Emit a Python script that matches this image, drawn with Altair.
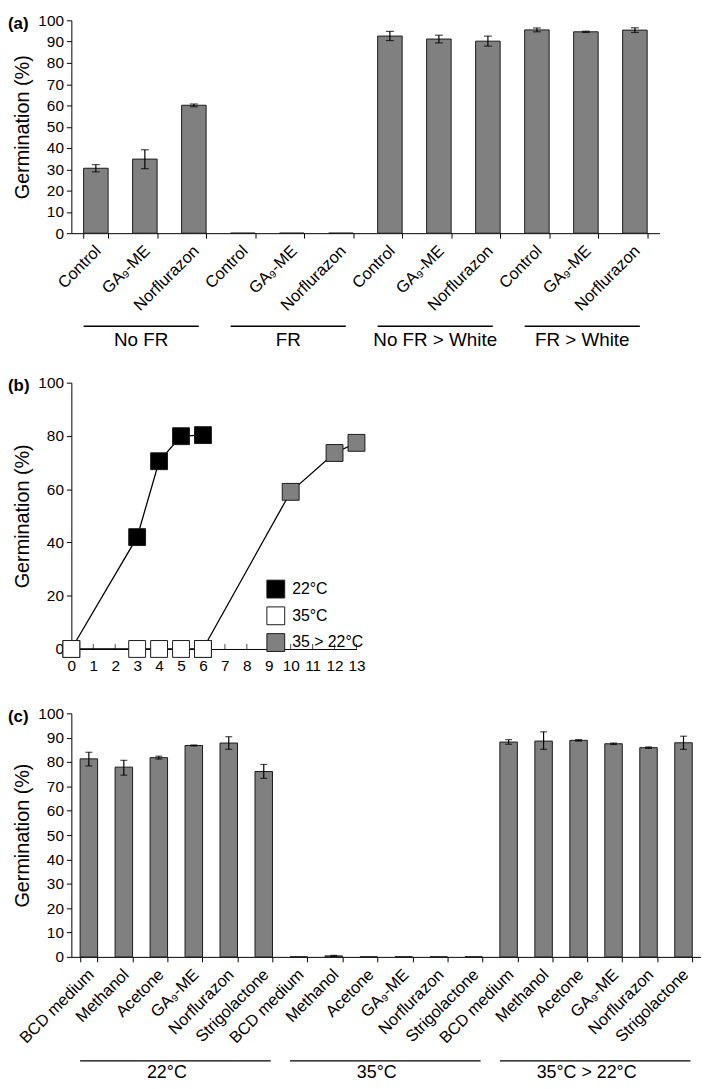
import altair as alt
import pandas as pd

FONT = "Liberation Sans"
BAR = "#808080"
EDGE = "#1a1a1a"

# ---------------- data (a) ----------------
a_groups = ["No FR", "FR", "No FR > White", "FR > White"]
a_treatments = ["Control", "GA₉-ME", "Norflurazon"]
a_mean = [30.5, 34.8, 60.1, 0, 0, 0, 92.6, 91.2, 90.2, 95.5, 94.6, 95.4]
a_low = [28.8, 30.3, 59.4, None, None, None, 90.5, 89.4, 87.9, 94.6, 94.3, 94.3]
a_high = [32.2, 39.2, 60.7, None, None, None, 94.8, 93.0, 92.6, 96.4, 94.9, 96.5]

# ---------------- data (b) ----------------
b_series = ["22°C", "35°C", "35 > 22°C"]
b_colors = ["#000000", "#ffffff", "#808080"]
b_22_day = [0, 3, 4, 5, 6]
b_22_val = [0, 42.0, 70.5, 79.9, 80.3]
b_35_day = [0, 3, 4, 5, 6]
b_35_val = [0, 0, 0, 0, 0]
b_3522_day = [6, 10, 12, 13]
b_3522_val = [0, 59.0, 73.6, 77.4]
b_ticks = list(range(0, 14))

# ---------------- data (c) ----------------
c_groups = ["22°C", "35°C", "35°C > 22°C"]
c_treatments = ["BCD medium", "Methanol", "Acetone", "GA₉-ME", "Norflurazon", "Strigolactone"]
c_mean = [81.3, 77.9, 81.8, 86.8, 87.8, 76.1,
          0, 0.4, 0, 0, 0, 0,
          88.2, 88.6, 88.9, 87.5, 85.9, 87.9]
c_low = [78.4, 74.6, 81.2, 86.6, 85.2, 73.3,
         None, 0.2, None, None, None, None,
         87.3, 85.2, 88.6, 87.2, 85.6, 85.2]
c_high = [84.0, 80.7, 82.4, 87.0, 90.4, 79.0,
          None, 0.6, None, None, None, None,
          89.2, 92.4, 89.2, 87.8, 86.2, 90.6]

panel_labels = ["(a)", "(b)", "(c)"]
y_ticks = list(range(0, 101, 10))
LABEL_X = -64


def y_enc(field, title_pad):
    return alt.Y(field, scale=alt.Scale(domain=[0, 100], nice=False),
                 axis=alt.Axis(values=y_ticks, title="Germination (%)", titleFontSize=20,
                               titleFontWeight="normal", titlePadding=title_pad,
                               labelFontSize=15.5, tickSize=5, labelPadding=3, grid=False,
                               labelOverlap=False))


def bar_panel(groups, treatments, mean, low, high, width, height, label,
              line_y, text_y, end_bp, mid_idx, mid_bp, group_font, cap, title_pad):
    ids = [g + "|" + t for g in groups for t in treatments]
    df = pd.DataFrame({"id": ids, "mean": mean, "low": low, "high": high})
    gdf = pd.DataFrame({
        "group": groups,
        "first": [g + "|" + treatments[0] for g in groups],
        "last": [g + "|" + treatments[-1] for g in groups],
        "mid": [g + "|" + treatments[mid_idx] for g in groups],
    })
    xscale = alt.Scale(domain=ids, paddingInner=0.5, paddingOuter=0.25)
    xaxis = alt.Axis(title=None, labelAngle=-45, labelAlign="right", labelBaseline="middle",
                     labelFontSize=16.5, labelPadding=10, labelOffset=2,
                     tickBand="extent", tickSize=5, labelOverlap=False,
                     labelExpr="split(datum.label, '|')[1]")
    x = alt.X("id:N", scale=xscale, axis=xaxis, sort=ids)
    base = alt.Chart(df)
    bars = base.mark_bar(color=BAR, stroke=EDGE, strokeWidth=1).encode(
        x=x, y=y_enc("mean:Q", title_pad))
    err = base.mark_rule(color="black", strokeWidth=1.2).encode(
        x=x, y=y_enc("low:Q", title_pad), y2="high:Q")
    cap_lo = base.mark_tick(color="black", size=cap, thickness=1.2, orient="horizontal").encode(
        x=x, y=y_enc("low:Q", title_pad))
    cap_hi = base.mark_tick(color="black", size=cap, thickness=1.2, orient="horizontal").encode(
        x=x, y=y_enc("high:Q", title_pad))
    g = alt.Chart(gdf)
    glines = g.mark_rule(color="black", strokeWidth=1.3).encode(
        x=alt.X("first:N", bandPosition=0), x2=alt.X2("last:N", bandPosition=end_bp),
        y=alt.value(height + line_y))
    gtext = g.mark_text(fontSize=group_font, baseline="middle", align="center", color="black").encode(
        x=alt.X("mid:N", bandPosition=mid_bp), y=alt.value(height + text_y), text="group:N")
    plab = alt.Chart(pd.DataFrame({"t": [label]})).mark_text(
        fontSize=17, fontWeight="bold", align="left", baseline="middle", color="black").encode(
        x=alt.value(LABEL_X), y=alt.value(4), text="t:N")
    return alt.layer(bars, err, cap_lo, cap_hi, glines, gtext, plab).properties(
        width=width, height=height)


chart_a = bar_panel(a_groups, a_treatments, a_mean, a_low, a_high, 594, 215, panel_labels[0],
                    line_y=94, text_y=108, end_bp=0.7, mid_idx=1, mid_bp=0.35,
                    group_font=19, cap=8, title_pad=5)

# ---------------- panel (b) ----------------
rows = []
for d, v in zip(b_22_day, b_22_val):
    rows.append({"day": d, "val": v, "series": b_series[0], "k": 0})
for d, v in zip(b_3522_day, b_3522_val):
    rows.append({"day": d, "val": v, "series": b_series[2], "k": 1})
for d, v in zip(b_35_day, b_35_val):
    rows.append({"day": d, "val": v, "series": b_series[1], "k": 2})
bdf = pd.DataFrame(rows)

b_xscale = alt.Scale(domain=[0, 13], nice=False)
b_xaxis = alt.Axis(values=b_ticks, title=None, ticks=False, grid=False,
                   labelFontSize=15.5, labelPadding=10, labelFlush=False,
                   labelOverlap=False)
bx = alt.X("day:Q", scale=b_xscale, axis=b_xaxis)
by = y_enc("val:Q", 5)
bline = alt.Chart(bdf).mark_line(color="black", strokeWidth=1.3).encode(
    x=bx, y=by, detail="series:N")
bpts = alt.Chart(bdf).mark_square(size=290, stroke=EDGE, strokeWidth=1, opacity=1).encode(
    x=bx, y=by,
    fill=alt.Fill("series:N", scale=alt.Scale(domain=b_series, range=b_colors),
                  legend=alt.Legend(orient="none", legendX=197, legendY=199, title=None,
                                    symbolType="square", symbolSize=324,
                                    symbolStrokeColor=EDGE, symbolStrokeWidth=1,
                                    labelFontSize=16, labelOffset=7, rowPadding=4,
                                    padding=0)),
    order=alt.Order("k:Q"))
btick = alt.Chart(pd.DataFrame({"day": b_ticks})).mark_tick(
    color="black", size=5, thickness=1, orient="vertical", yOffset=-2.5).encode(
    x=bx, y=alt.datum(0))
blab = alt.Chart(pd.DataFrame({"t": [panel_labels[1]]})).mark_text(
    fontSize=17, fontWeight="bold", align="left", baseline="middle", color="black").encode(
    x=alt.value(LABEL_X), y=alt.value(3), text="t:N")
chart_b = alt.layer(bline, btick, bpts, blab).properties(width=288, height=269)

chart_c = bar_panel(c_groups, c_treatments, c_mean, c_low, c_high, 636, 246, panel_labels[2],
                    line_y=105, text_y=117, end_bp=0.9, mid_idx=2, mid_bp=0.96,
                    group_font=18, cap=7, title_pad=5)

inner = alt.vconcat(chart_b, chart_c, spacing=32).resolve_legend(fill="independent")
chart = alt.vconcat(chart_a, inner, spacing=26).resolve_legend(fill="independent").properties(
    padding={"left": 0, "top": 0, "right": 0, "bottom": 0}).configure(
    font=FONT
).configure_view(stroke=None).configure_axis(
    domainColor="black", tickColor="black", labelColor="black", titleColor="black",
    labelFont=FONT, titleFont=FONT, domainWidth=1, tickWidth=1
).configure_legend(labelFont=FONT, labelColor="black")

chart.save("out.html", embed_options={"renderer": "svg", "actions": False})
